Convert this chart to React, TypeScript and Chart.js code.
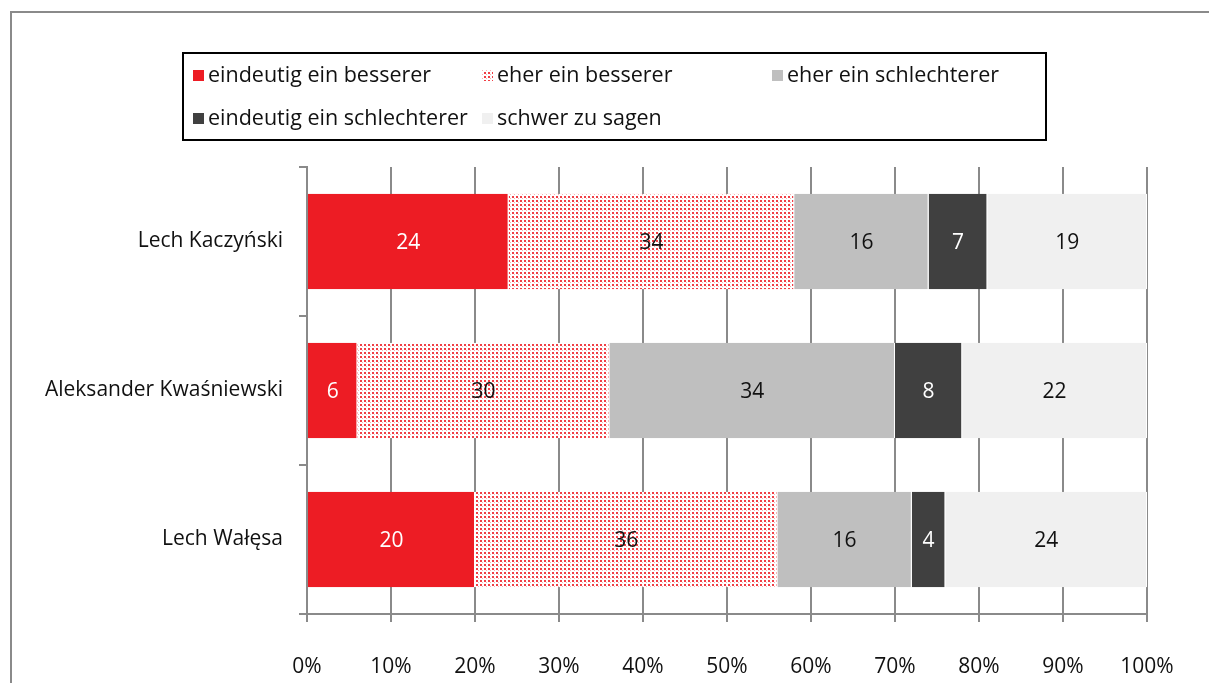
import React, { useEffect, useRef } from "react";
import { Chart, registerables } from "chart.js";

Chart.register(...registerables);

const categories = ["Lech Kaczyński", "Aleksander Kwaśniewski", "Lech Wałęsa"];
const seriesLabels = [
  "eindeutig ein besserer",
  "eher ein besserer",
  "eher ein schlechterer",
  "eindeutig ein schlechterer",
  "schwer zu sagen",
];
const eindeutigBesser = [24, 6, 20];
const eherBesser = [34, 30, 36];
const eherSchlechter = [16, 34, 16];
const eindeutigSchlechter = [7, 8, 4];
const schwerZuSagen = [19, 22, 24];
const xTicks = [0, 10, 20, 30, 40, 50, 60, 70, 80, 90, 100];

const FONT = "'Open Sans', 'Noto Sans', sans-serif";
const FONT_SIZE = 21;
const labelColors = ["#ffffff", "#111111", "#111111", "#ffffff", "#111111"];

function makePattern(): CanvasPattern | string {
  const c = document.createElement("canvas");
  c.width = 4;
  c.height = 4;
  const g = c.getContext("2d");
  if (!g) return "#f49aa0";
  g.fillStyle = "#ffffff";
  g.fillRect(0, 0, 4, 4);
  g.fillStyle = "rgba(237,28,36,0.85)";
  g.fillRect(0, 0, 2, 2);
  g.fillStyle = "rgba(237,28,36,0.35)";
  g.fillRect(2, 2, 1, 1);
  const p = g.createPattern(c, "repeat");
  return p || "#f49aa0";
}

export default function App() {
  const ref = useRef<HTMLCanvasElement | null>(null);

  useEffect(() => {
    document.body.style.margin = "0";
    const canvas = ref.current;
    if (!canvas) return;
    const pattern = makePattern();
    const fills: any[] = ["#ED1C24", pattern, "#BFBFBF", "#404040", "#F0F0F0"];
    const values = [eindeutigBesser, eherBesser, eherSchlechter, eindeutigSchlechter, schwerZuSagen];

    const framePlugin = {
      id: "frameAndLegend",
      beforeDraw(chart: any) {
        const ctx = chart.ctx;
        ctx.save();
        ctx.fillStyle = "#ffffff";
        ctx.fillRect(0, 0, chart.width, chart.height);
        ctx.strokeStyle = "#8a8a8a";
        ctx.lineWidth = 2;
        ctx.beginPath();
        ctx.moveTo(11, chart.height + 2);
        ctx.lineTo(11, 12);
        ctx.lineTo(chart.width + 2, 12);
        ctx.stroke();
        ctx.restore();
      },
      afterDraw(chart: any) {
        const ctx = chart.ctx;
        ctx.save();
        // legend box
        ctx.strokeStyle = "#000000";
        ctx.lineWidth = 2;
        ctx.strokeRect(183, 53, 863, 87);
        const cols = [193, 482, 772];
        const rows = [76, 119];
        ctx.font = `21.5px ${FONT}`;
        ctx.textBaseline = "middle";
        ctx.textAlign = "left";
        chart.data.datasets.forEach((ds: any, i: number) => {
          const col = cols[i % 3];
          const row = rows[Math.floor(i / 3)];
          ctx.fillStyle = ds.backgroundColor;
          ctx.fillRect(col, row - 6, 11, 11);
          ctx.fillStyle = "#111111";
          ctx.fillText(ds.label, col + 15, row);
        });
        // data labels
        ctx.font = `${FONT_SIZE}px ${FONT}`;
        ctx.textAlign = "center";
        ctx.textBaseline = "middle";
        chart.data.datasets.forEach((ds: any, i: number) => {
          const meta = chart.getDatasetMeta(i);
          meta.data.forEach((bar: any, j: number) => {
            const v = ds.data[j];
            const cx = (bar.x + bar.base) / 2;
            ctx.fillStyle = labelColors[i];
            ctx.fillText(String(v), cx, bar.y + 2);
          });
        });
        ctx.restore();
      },
    };

    const chart = new Chart(canvas, {
      type: "bar",
      data: {
        labels: categories,
        datasets: seriesLabels.map((label, i) => ({
          label,
          data: values[i],
          backgroundColor: fills[i],
          borderColor: "#ffffff",
          borderWidth: { left: 0, right: 1, top: 0, bottom: 0 },
          borderSkipped: false,
          categoryPercentage: 1,
          barPercentage: 0.64,
        })),
      },
      options: {
        indexAxis: "y",
        responsive: false,
        animation: false,
        layout: { padding: { left: 0, top: 167, right: 62, bottom: 0 } },
        plugins: {
          legend: { display: false },
          tooltip: { enabled: false },
          title: { display: false },
        },
        scales: {
          x: {
            stacked: true,
            min: 0,
            max: 100,
            afterFit(scale: any) {
              scale.height = 69;
            },
            afterBuildTicks(scale: any) {
              scale.ticks = xTicks.map((v) => ({ value: v }));
            },
            ticks: {
              callback: (v: any) => `${v}%`,
              color: "#111111",
              font: { family: FONT, size: FONT_SIZE },
              padding: 32,
              maxRotation: 0,
            },
            grid: {
              color: "#8a8a8a",
              lineWidth: 2,
              tickLength: 8,
              drawOnChartArea: true,
            },
            border: { color: "#8a8a8a", width: 2 },
          },
          y: {
            stacked: true,
            afterFit(scale: any) {
              scale.width = 307;
            },
            ticks: {
              color: "#111111",
              font: { family: FONT, size: FONT_SIZE },
              padding: 16,
            },
            grid: {
              offset: true,
              color: "#8a8a8a",
              lineWidth: 2,
              tickLength: 8,
              drawOnChartArea: false,
            },
            border: { color: "#8a8a8a", width: 2 },
          },
        },
      } as any,
      plugins: [framePlugin],
    });
    return () => chart.destroy();
  }, []);

  return (
    <div style={{ position: "absolute", left: 0, top: 0, width: 1209, height: 683 }}>
      <canvas ref={ref} width={1209} height={683} style={{ display: "block" }} />
    </div>
  );
}
